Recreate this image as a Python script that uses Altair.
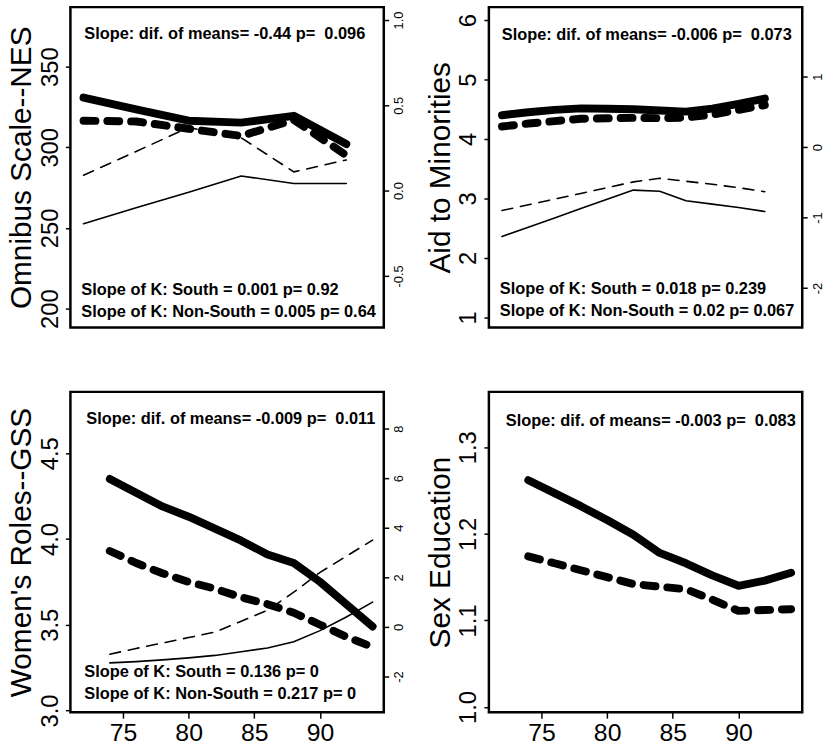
import altair as alt
import pandas as pd

FONT = "Liberation Sans"

# ---------------- data ----------------
years_nes = [72, 76, 80, 84, 88, 92]
omni_south_mean = [330.8, 323.5, 316.5, 315.3, 319.5, 302.0]
omni_nonsouth_mean = [316.5, 316.0, 311.5, 307.0, 317.0, 295.0]
omni_south_k = [-0.194, -0.10, -0.01, 0.086, 0.042, 0.042]
omni_nonsouth_k = [0.09, 0.23, 0.37, 0.31, 0.11, 0.18]

years_aid = [72, 74, 76, 78, 80, 82, 84, 86, 88, 90, 92]
aid_south_mean = [4.40, 4.45, 4.49, 4.515, 4.51, 4.50, 4.48, 4.46, 4.51, 4.59, 4.68]
aid_nonsouth_mean = [4.21, 4.26, 4.30, 4.34, 4.35, 4.355, 4.35, 4.36, 4.41, 4.49, 4.57]
aid_south_k = [-1.268, -1.137, -1.006, -0.873, -0.742, -0.611, -0.627, -0.761, -0.810, -0.859, -0.915]
aid_nonsouth_k = [-0.901, -0.820, -0.738, -0.658, -0.576, -0.494, -0.444, -0.486, -0.528, -0.577, -0.634]

years_gss = [74, 76, 78, 80, 82, 84, 86, 88, 90, 92, 94]
women_south_mean = [4.35, 4.27, 4.19, 4.13, 4.06, 3.99, 3.91, 3.86, 3.75, 3.62, 3.49]
women_nonsouth_mean = [3.93, 3.86, 3.80, 3.75, 3.71, 3.66, 3.62, 3.57, 3.50, 3.43, 3.37]
women_south_k = [-1.45, -1.40, -1.33, -1.25, -1.15, -1.00, -0.85, -0.60, -0.15, 0.40, 1.00]
women_nonsouth_k = [-1.10, -0.87, -0.65, -0.43, -0.21, 0.23, 0.67, 1.40, 2.20, 2.85, 3.50]

sexed_south_mean = [1.262, 1.247, 1.232, 1.216, 1.199, 1.178, 1.166, 1.152, 1.140, 1.146, 1.155]
sexed_nonsouth_mean = [1.174, 1.166, 1.158, 1.150, 1.142, 1.139, 1.136, 1.124, 1.111, 1.112, 1.113]

x_ticks = [75, 80, 85, 90]

titles = ["Omnibus Scale--NES", "Aid to Minorities", "Women's Roles--GSS", "Sex Education"]
top_notes = [
    "Slope: dif. of means= -0.44 p= \u00a00.096",
    "Slope: dif. of means= -0.006 p= \u00a00.073",
    "Slope: dif. of means= -0.009 p= \u00a00.011",
    "Slope: dif. of means= -0.003 p= \u00a00.083",
]
south_notes = [
    "Slope of K: South = 0.001 p= 0.92",
    "Slope of K: South = 0.018 p= 0.239",
    "Slope of K: South = 0.136 p= 0",
]
nonsouth_notes = [
    "Slope of K: Non-South = 0.005 p= 0.64",
    "Slope of K: Non-South = 0.02 p= 0.067",
    "Slope of K: Non-South = 0.217 p= 0",
]

# ---------------- helpers ----------------
XDOM = [71.0, 94.85]
W, H = 316, 323


def lab(fmt):
    return (f"datum.value < 0 ? '-' + format(-datum.value, '{fmt}') : "
            f"format(datum.value, '{fmt}')")


def left_axis(title, values, fmt):
    return alt.Axis(orient="left", title=title, values=values, labelExpr=lab(fmt),
                    labelAngle=270, labelAlign="center", labelBaseline="bottom",
                    labelFontSize=24, labelFont=FONT, labelColor="black",
                    labelPadding=3, tickSize=5, tickColor="black", tickWidth=1.5,
                    domain=False, grid=False, labelFlush=False, labelOverlap=False,
                    titleFontSize=30, titleFont=FONT, titleFontWeight="normal",
                    titleColor="black", titlePadding=2)


def right_axis(values, fmt):
    return alt.Axis(orient="right", title=None, values=values, labelExpr=lab(fmt),
                    labelAngle=270, labelAlign="center", labelBaseline="top",
                    labelFontSize=13, labelFont=FONT, labelColor="black",
                    labelPadding=4, tickSize=5, tickColor="black", tickWidth=1.5,
                    domain=False, grid=False, labelFlush=False, labelOverlap=False)


def x_enc(show):
    if show:
        ax = alt.Axis(orient="bottom", title=None, values=x_ticks, format="d",
                      labelFontSize=25, labelFont=FONT, labelColor="black",
                      labelPadding=3, tickSize=6, tickColor="black", tickWidth=1.5,
                      domain=False, grid=False, labelFlush=False)
    else:
        ax = None
    return alt.X("year:Q", scale=alt.Scale(domain=XDOM, nice=False, zero=False), axis=ax)


def line(years, vals, y, x, thick, dashed):
    df = pd.DataFrame({"year": years, "value": vals})
    kw = dict(color="black", strokeCap="round", strokeJoin="round",
              strokeWidth=8 if thick else 1.6)
    if dashed:
        kw["strokeDash"] = [12, 12] if thick else [11, 8]
    return alt.Chart(df).mark_line(**kw).encode(x=x, y=y)


def note(text, px, py):
    return alt.Chart(pd.DataFrame({"t": [text]})).mark_text(
        align="left", baseline="middle", font=FONT, fontSize=16.5, fontWeight="bold",
        color="black").encode(x=alt.value(px), y=alt.value(py), text="t:N")


def panel(years, s_mean, n_mean, ldom, laxis, show_x, notes,
          s_k=None, n_k=None, rdom=None, raxis=None):
    x = x_enc(show_x)
    yl = alt.Y("value:Q", scale=alt.Scale(domain=ldom, nice=False, zero=False), axis=laxis)
    left = alt.layer(line(years, n_mean, yl, x, True, True),
                     line(years, s_mean, yl, x, True, False),
                     *notes)
    if s_k is None:
        return left.properties(width=W, height=H)
    yr = alt.Y("value:Q", scale=alt.Scale(domain=rdom, nice=False, zero=False), axis=raxis)
    right = alt.layer(line(years, n_k, yr, x, False, True),
                      line(years, s_k, yr, x, False, False))
    return alt.layer(right, left).resolve_scale(y="independent").properties(width=W, height=H)


p1 = panel(years_nes, omni_south_mean, omni_nonsouth_mean, [188.3, 386.9],
           left_axis(titles[0], [200, 250, 300, 350], "d"), False,
           [note(top_notes[0], 14, 27), note(south_notes[0], 11, 285), note(nonsouth_notes[0], 11, 307)],
           omni_south_k, omni_nonsouth_k, [-0.802, 1.076], right_axis([-0.5, 0.0, 0.5, 1.0], ".1f"))

p2 = panel(years_aid, aid_south_mean, aid_nonsouth_mean, [0.833, 6.217],
           left_axis(titles[1], [1, 2, 3, 4, 5, 6], "d"), False,
           [note(top_notes[1], 13, 28), note(south_notes[1], 11, 284), note(nonsouth_notes[1], 11, 306)],
           aid_south_k, aid_nonsouth_k, [-2.56, 1.986], right_axis([-2, -1, 0, 1], "d"))

p3 = panel(years_gss, women_south_mean, women_nonsouth_mean, [2.99, 4.858],
           left_axis(titles[2], [3.0, 3.5, 4.0, 4.5], ".1f"), True,
           [note(top_notes[2], 16, 27), note(south_notes[2], 14, 283), note(nonsouth_notes[2], 14, 305)],
           women_south_k, women_nonsouth_k, [-3.44, 9.48], right_axis([-2, 0, 2, 4, 6, 8], "d"))

p4 = panel(years_gss, sexed_south_mean, sexed_nonsouth_mean, [0.994, 1.364],
           left_axis(titles[3], [1.0, 1.1, 1.2, 1.3], ".1f"), True,
           [note(top_notes[3], 17, 29)])

chart = alt.concat(p1, p2, p3, p4, columns=2, spacing={"row": 65, "column": 106},
                   bounds="flush").properties(
    padding={"left": 5, "top": 2, "right": 5, "bottom": 5},
    background="white",
).configure_view(stroke="black", strokeWidth=2.5)

chart.save("out.html", embed_options={"renderer": "svg", "actions": False})
